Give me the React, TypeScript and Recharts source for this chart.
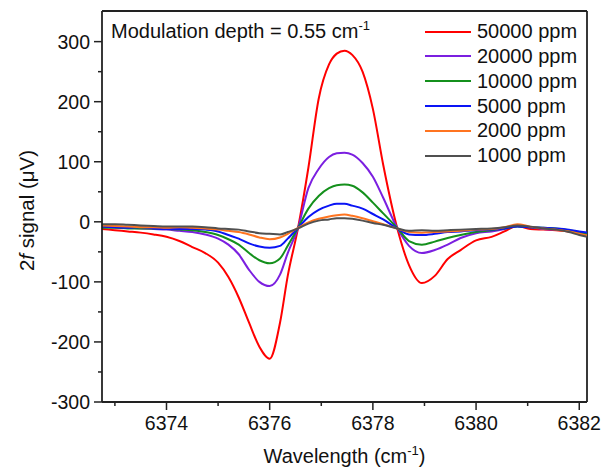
import React from 'react';
import { LineChart, Line, XAxis, YAxis, Legend, Label, ReferenceLine } from 'recharts';

// wavelength grid (cm-1)
const wavelengths = [
  6372.75, 6373.0, 6373.25, 6373.5, 6373.75, 6374.0, 6374.25, 6374.5, 6374.75, 6375.0,
  6375.2, 6375.4, 6375.6, 6375.8, 6376.0, 6376.2, 6376.35, 6376.55, 6376.75, 6376.95,
  6377.15, 6377.3, 6377.45, 6377.6, 6377.8, 6378.0, 6378.2, 6378.47, 6378.7, 6378.95,
  6379.2, 6379.45, 6379.7, 6380.0, 6380.3, 6380.55, 6380.8, 6381.05, 6381.3, 6381.55,
  6381.8, 6382.0, 6382.15,
];

const ppm50000 = [
  -12, -14, -16, -18, -21, -25, -32, -42, -52, -68,
  -92, -126, -168, -208, -228, -168, -90, -10, 90, 205,
  262, 280, 285, 278, 250, 188, 95, -10, -72, -102,
  -90, -62, -47, -31, -25, -16, -7, -12, -13, -14,
  -16, -20, -23,
];
const ppm20000 = [
  -8, -9, -10, -11, -12, -13, -15, -17, -21, -28,
  -38, -54, -80, -100, -107, -88, -52, -10, 56, 88,
  108, 114, 115, 112, 98, 75, 40, -10, -40, -52,
  -47, -38, -27, -19, -16, -12, -6, -9, -12, -13,
  -15, -18, -20,
];
const ppm10000 = [
  -10, -10, -11, -11, -11, -12, -13, -14, -17, -22,
  -29, -38, -52, -64, -69, -61, -40, -10, 22, 43,
  56, 61, 62, 60, 49, 32, 14, -10, -32, -38,
  -33, -27, -22, -17, -14, -11, -8, -9, -10, -11,
  -14, -17, -20,
];
const ppm5000 = [
  -8, -9, -10, -9, -11, -12, -12, -12, -13, -16,
  -22, -28, -36, -41, -43, -40, -28, -10, 8, 20,
  27, 30, 30, 27, 22, 13, 4, -11, -21, -22,
  -20, -17, -16, -14, -13, -11, -8, -9, -10, -11,
  -13, -16, -18,
];
const ppm2000 = [
  -6, -7, -8, -9, -9, -10, -9, -10, -11, -13,
  -15, -17, -21, -26, -29, -26, -20, -10, -1, 5,
  9, 11, 12, 10, 6, 1, -4, -11, -17, -18,
  -17, -16, -15, -13, -12, -9, -4, -8, -11, -13,
  -16, -20, -23,
];
const ppm1000 = [
  -4, -4, -5, -6, -7, -8, -8, -8, -9, -11,
  -12, -13, -16, -19, -20, -21, -17, -11, -3, 2,
  4, 6, 6, 5, 2, -2, -5, -11, -15, -14,
  -15, -14, -13, -12, -11, -9, -6, -8, -11, -13,
  -17, -22, -25,
];

const seriesNames = ['50000 ppm', '20000 ppm', '10000 ppm', '5000 ppm', '2000 ppm', '1000 ppm'];
const seriesValues = [ppm50000, ppm20000, ppm10000, ppm5000, ppm2000, ppm1000];
const seriesColors = ['#ff0000', '#7b1fe0', '#14901c', '#0a14f5', '#ff7420', '#505050'];

const xTicks = [6373, 6374, 6375, 6376, 6377, 6378, 6379, 6380, 6381, 6382];
const yTicks = [-300, -250, -200, -150, -100, -50, 0, 50, 100, 150, 200, 250, 300, 350];

const X_DOMAIN: [number, number] = [6372.75, 6382.15];
const Y_DOMAIN: [number, number] = [-300, 351];

const data = wavelengths.map((w, i) => {
  const row: Record<string, number> = { w };
  seriesNames.forEach((name, s) => {
    row[name] = seriesValues[s][i];
  });
  return row;
});

const FONT = 'Arial, "Liberation Sans", sans-serif';
const AXIS = '#222';

function XTick({ x, y, payload }: any) {
  const major = payload.value % 2 === 0;
  return (
    <g>
      <line x1={x} y1={y} x2={x} y2={y + (major ? 8 : 4)} stroke={AXIS} strokeWidth={1.5} />
      {major && (
        <text x={x} y={y + 28} textAnchor="middle" fontSize={19.5} fontFamily={FONT} fill="#111">
          {payload.value}
        </text>
      )}
    </g>
  );
}

function YTick({ x, y, payload }: any) {
  const major = payload.value % 100 === 0;
  if (payload.value > 300) return null;
  return (
    <g>
      <line x1={x} y1={y} x2={x - (major ? 8 : 4)} y2={y} stroke={AXIS} strokeWidth={1.5} />
      {major && (
        <text x={x - 12} y={y + 7} textAnchor="end" fontSize={19.5} fontFamily={FONT} fill="#111">
          {payload.value}
        </text>
      )}
    </g>
  );
}

function YTitle({ viewBox }: any) {
  const cx = viewBox.x + 34;
  const cy = viewBox.y + viewBox.height / 2 + 4;
  return (
    <text
      x={cx}
      y={cy}
      transform={`rotate(-90 ${cx} ${cy})`}
      textAnchor="middle"
      fontSize={20.5}
      fontFamily={FONT}
      fill="#111"
    >
      2<tspan fontStyle="italic">f</tspan> signal (μV)
    </text>
  );
}

function XTitle({ viewBox }: any) {
  const cx = viewBox.x + viewBox.width / 2;
  const cy = viewBox.y + 61;
  return (
    <text x={cx} y={cy} textAnchor="middle" fontSize={20} fontFamily={FONT} fill="#111">
      Wavelength (cm
      <tspan fontSize={13} dy={-8}>-1</tspan>
      <tspan dy={8}>)</tspan>
    </text>
  );
}

function renderLegend(props: any) {
  const payload = [...(props.payload || [])].sort(
    (a: any, b: any) => seriesNames.indexOf(a.value) - seriesNames.indexOf(b.value)
  );
  return (
    <div style={{ fontFamily: FONT, fontSize: 20, color: '#111' }}>
      {payload.map((p: any) => (
        <div key={p.value} style={{ display: 'flex', alignItems: 'center', height: 24.8, lineHeight: '24.8px' }}>
          <div style={{ width: 46, height: 2, background: p.color, marginRight: 6 }} />
          <span>{p.value}</span>
        </div>
      ))}
    </div>
  );
}

export default function App() {
  return (
    <div style={{ position: 'absolute', left: 0, top: 0, width: 614, height: 470, background: '#fff' }}>
      <LineChart width={614} height={470} data={data} margin={{ top: 11, right: 27, bottom: 0, left: 0 }}>
        <XAxis
          dataKey="w"
          type="number"
          domain={X_DOMAIN}
          allowDataOverflow
          ticks={xTicks}
          interval={0}
          tick={<XTick />}
          tickSize={0}
          tickMargin={0}
          tickLine={false}
          height={68}
          axisLine={{ stroke: AXIS, strokeWidth: 1.8 }}
        >
          <Label content={<XTitle />} />
        </XAxis>
        <YAxis
          type="number"
          domain={Y_DOMAIN}
          allowDataOverflow
          ticks={yTicks}
          interval={0}
          tick={<YTick />}
          tickSize={0}
          tickMargin={0}
          tickLine={false}
          width={102}
          axisLine={{ stroke: AXIS, strokeWidth: 1.8 }}
        >
          <Label content={<YTitle />} />
        </YAxis>
        <ReferenceLine y={Y_DOMAIN[1]} stroke={AXIS} strokeWidth={1.8} ifOverflow="extendDomain" />
        <ReferenceLine x={X_DOMAIN[1]} stroke={AXIS} strokeWidth={1.8} ifOverflow="extendDomain" />
        <Legend
          layout="horizontal"
          verticalAlign="middle"
          align="center"
          content={renderLegend}
          wrapperStyle={{ position: 'absolute', left: 425, top: 19.3, width: 180 }}
        />
        {seriesNames.map((name, s) => (
          <Line
            key={name}
            dataKey={name}
            name={name}
            type="monotone"
            stroke={seriesColors[s]}
            strokeWidth={2}
            dot={false}
            isAnimationActive={false}
          />
        ))}
      </LineChart>
      <div
        style={{
          position: 'absolute',
          left: 111,
          top: 21,
          fontFamily: FONT,
          fontSize: 20,
          lineHeight: '20px',
          color: '#111',
          whiteSpace: 'nowrap',
        }}
      >
        Modulation depth = 0.55 cm<sup style={{ fontSize: 13, verticalAlign: 8, lineHeight: 0 }}>-1</sup>
      </div>
    </div>
  );
}
